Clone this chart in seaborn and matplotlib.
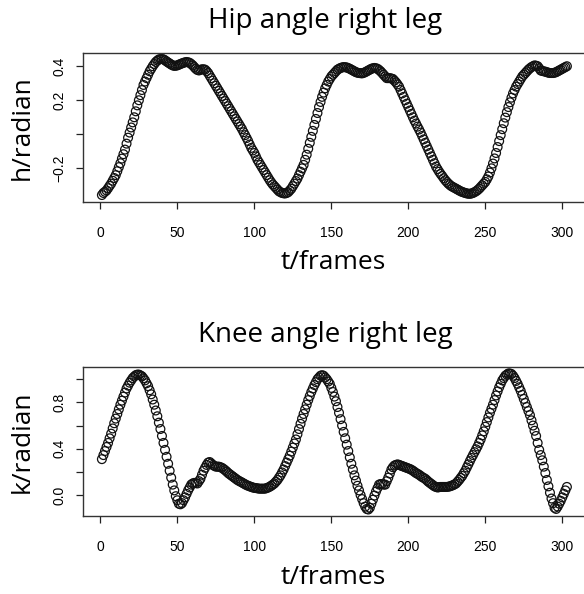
import matplotlib
matplotlib.use("Agg")
import matplotlib.pyplot as plt
import seaborn as sns
import pandas as pd

# Frame index of each sample (1-based, as in the recording)
frames = list(range(1, 304))

# Hip angle of the right leg, radians, one value per frame
hip_angle = [
    -0.357, -0.345, -0.338, -0.330, -0.317, -0.303, -0.290, -0.273, -0.257, -0.240,
    -0.217, -0.193, -0.170, -0.143, -0.117, -0.090, -0.055, -0.020, 0.010, 0.040,
    0.070, 0.100, 0.135, 0.170, 0.200, 0.230, 0.260, 0.290, 0.310, 0.330,
    0.350, 0.370, 0.385, 0.400, 0.413, 0.425, 0.433, 0.440, 0.442, 0.443,
    0.440, 0.435, 0.428, 0.422, 0.416, 0.410, 0.405, 0.402, 0.403, 0.405,
    0.409, 0.413, 0.417, 0.420, 0.423, 0.425, 0.423, 0.420, 0.413, 0.405,
    0.395, 0.385, 0.378, 0.375, 0.379, 0.382, 0.382, 0.380, 0.371, 0.360,
    0.345, 0.330, 0.315, 0.300, 0.285, 0.270, 0.255, 0.240, 0.225, 0.210,
    0.195, 0.180, 0.165, 0.150, 0.135, 0.120, 0.105, 0.090, 0.075, 0.060,
    0.045, 0.030, 0.012, -0.005, -0.022, -0.040, -0.060, -0.080, -0.095, -0.110,
    -0.130, -0.150, -0.165, -0.180, -0.195, -0.210, -0.225, -0.240, -0.255, -0.270,
    -0.283, -0.295, -0.305, -0.315, -0.325, -0.335, -0.340, -0.345, -0.347, -0.348,
    -0.345, -0.340, -0.330, -0.320, -0.305, -0.290, -0.275, -0.260, -0.240, -0.220,
    -0.200, -0.180, -0.150, -0.120, -0.085, -0.050, -0.015, 0.020, 0.055, 0.090,
    0.125, 0.160, 0.190, 0.220, 0.245, 0.270, 0.290, 0.310, 0.325, 0.340,
    0.350, 0.360, 0.370, 0.380, 0.385, 0.390, 0.393, 0.395, 0.394, 0.393,
    0.389, 0.385, 0.380, 0.375, 0.370, 0.365, 0.362, 0.360, 0.359, 0.358,
    0.361, 0.365, 0.370, 0.375, 0.380, 0.385, 0.388, 0.390, 0.388, 0.385,
    0.378, 0.370, 0.360, 0.350, 0.340, 0.330, 0.330, 0.330, 0.328, 0.325,
    0.315, 0.305, 0.293, 0.280, 0.260, 0.240, 0.220, 0.200, 0.180, 0.160,
    0.140, 0.120, 0.100, 0.080, 0.063, 0.045, 0.028, 0.010, -0.010, -0.030,
    -0.050, -0.070, -0.090, -0.110, -0.130, -0.150, -0.170, -0.190, -0.205, -0.220,
    -0.233, -0.245, -0.258, -0.270, -0.280, -0.290, -0.298, -0.305, -0.310, -0.315,
    -0.320, -0.325, -0.330, -0.335, -0.339, -0.342, -0.345, -0.348, -0.349, -0.350,
    -0.348, -0.345, -0.340, -0.335, -0.328, -0.320, -0.310, -0.300, -0.290, -0.280,
    -0.265, -0.248, -0.225, -0.200, -0.172, -0.142, -0.110, -0.075, -0.040, -0.005,
    0.030, 0.065, 0.098, 0.130, 0.160, 0.188, 0.215, 0.240, 0.260, 0.280,
    0.295, 0.310, 0.325, 0.340, 0.350, 0.360, 0.370, 0.380, 0.388, 0.395,
    0.400, 0.405, 0.403, 0.400, 0.388, 0.375, 0.372, 0.370, 0.368, 0.365,
    0.362, 0.360, 0.360, 0.360, 0.362, 0.365, 0.370, 0.375, 0.380, 0.385,
    0.390, 0.395, 0.400,
]

# Knee angle of the right leg, radians, one value per frame
knee_angle = [
    0.310, 0.345, 0.380, 0.415, 0.450, 0.490, 0.530, 0.575, 0.620, 0.660,
    0.700, 0.740, 0.780, 0.815, 0.850, 0.885, 0.920, 0.945, 0.970, 0.990,
    1.010, 1.023, 1.035, 1.040, 1.040, 1.033, 1.025, 1.008, 0.990, 0.965,
    0.940, 0.905, 0.870, 0.825, 0.780, 0.730, 0.680, 0.625, 0.570, 0.510,
    0.450, 0.390, 0.330, 0.270, 0.210, 0.150, 0.090, 0.040, -0.010, -0.045,
    -0.075, -0.080, -0.070, -0.045, -0.020, 0.010, 0.040, 0.065, 0.090, 0.100,
    0.105, 0.103, 0.100, 0.120, 0.140, 0.175, 0.210, 0.235, 0.260, 0.280,
    0.285, 0.273, 0.260, 0.252, 0.245, 0.245, 0.245, 0.240, 0.235, 0.225,
    0.215, 0.203, 0.190, 0.180, 0.170, 0.160, 0.150, 0.140, 0.130, 0.122,
    0.115, 0.108, 0.100, 0.093, 0.085, 0.080, 0.075, 0.070, 0.065, 0.062,
    0.060, 0.058, 0.055, 0.055, 0.055, 0.055, 0.055, 0.060, 0.065, 0.072,
    0.080, 0.090, 0.100, 0.115, 0.130, 0.150, 0.170, 0.195, 0.220, 0.250,
    0.280, 0.310, 0.340, 0.375, 0.410, 0.445, 0.480, 0.525, 0.570, 0.615,
    0.660, 0.700, 0.740, 0.780, 0.820, 0.855, 0.890, 0.920, 0.950, 0.975,
    1.000, 1.015, 1.030, 1.035, 1.030, 1.015, 1.000, 0.980, 0.960, 0.925,
    0.890, 0.850, 0.810, 0.760, 0.710, 0.655, 0.600, 0.545, 0.490, 0.435,
    0.380, 0.325, 0.270, 0.220, 0.170, 0.125, 0.080, 0.040, 0.000, -0.035,
    -0.070, -0.100, -0.120, -0.125, -0.110, -0.075, -0.040, -0.005, 0.030, 0.060,
    0.090, 0.095, 0.095, 0.090, 0.090, 0.120, 0.150, 0.185, 0.220, 0.240,
    0.255, 0.260, 0.265, 0.260, 0.255, 0.250, 0.245, 0.240, 0.235, 0.230,
    0.225, 0.218, 0.210, 0.200, 0.190, 0.183, 0.175, 0.165, 0.155, 0.148,
    0.140, 0.128, 0.115, 0.105, 0.095, 0.085, 0.075, 0.070, 0.065, 0.068,
    0.070, 0.070, 0.070, 0.070, 0.070, 0.072, 0.075, 0.080, 0.085, 0.092,
    0.100, 0.115, 0.130, 0.148, 0.165, 0.188, 0.210, 0.238, 0.265, 0.293,
    0.320, 0.345, 0.370, 0.395, 0.420, 0.450, 0.480, 0.515, 0.550, 0.590,
    0.630, 0.670, 0.710, 0.745, 0.780, 0.820, 0.860, 0.895, 0.930, 0.960,
    0.990, 1.010, 1.030, 1.040, 1.050, 1.050, 1.045, 1.030, 1.010, 0.985,
    0.960, 0.930, 0.900, 0.865, 0.830, 0.795, 0.760, 0.725, 0.690, 0.645,
    0.600, 0.555, 0.510, 0.450, 0.390, 0.345, 0.300, 0.245, 0.190, 0.130,
    0.075, 0.020, -0.030, -0.070, -0.110, -0.120, -0.100, -0.075, -0.050, -0.020,
    0.010, 0.040, 0.070,
]

titles = ["Hip angle right leg", "Knee angle right leg"]
y_labels = ["h/radian", "k/radian"]
x_label = "t/frames"
x_ticks = [0, 50, 100, 150, 200, 250, 300]
hip_yticks = [-0.2, 0.0, 0.2, 0.4]
hip_ytick_labels = ["\u22120.2", "", "0.2", "0.4"]
knee_yticks = [0.0, 0.2, 0.4, 0.6, 0.8, 1.0]
knee_ytick_labels = ["0.0", "", "0.4", "", "0.8", ""]

sns.set_style("ticks")
plt.rcParams["font.family"] = ["Liberation Sans", "DejaVu Sans"]
plt.rcParams["text.color"] = "black"
plt.rcParams["xtick.color"] = "black"
plt.rcParams["ytick.color"] = "black"

W, H = 584, 594
fig = plt.figure(figsize=(W / 100, H / 100), dpi=100)
fig.patch.set_facecolor("white")

label_font = ["Open Sans", "DejaVu Sans"]


def px_axes(left, top, right, bottom):
    return fig.add_axes([left / W, 1 - bottom / H, (right - left) / W, (bottom - top) / H])


panels = [
    dict(top=53.3, bottom=202.0, values=hip_angle, ylim=(-0.398, 0.476),
         yticks=hip_yticks, ylabels=hip_ytick_labels),
    dict(top=367.3, bottom=516.0, values=knee_angle, ylim=(-0.181, 1.103),
         yticks=knee_yticks, ylabels=knee_ytick_labels),
]

left, right = 83.3, 585.5
for i, p in enumerate(panels):
    ax = px_axes(left, p["top"], right, p["bottom"])
    df = pd.DataFrame({"frame": frames, "angle": p["values"]})
    sns.scatterplot(data=df, x="frame", y="angle", ax=ax, marker="o", s=40,
                    facecolor="none", edgecolor="#111111", linewidth=0.9,
                    legend=False)
    ax.set_xlim(-11.08, 315.08)
    ax.set_ylim(*p["ylim"])
    ax.set_xticks(x_ticks)
    ax.set_xticklabels([str(t) for t in x_ticks], fontsize=10)
    ax.set_yticks(p["yticks"])
    ax.set_yticklabels(p["ylabels"], fontsize=10, rotation=90, va="center")
    ax.tick_params(axis="both", which="major", direction="out", length=5.2,
                   width=0.9, color="#222222", labelcolor="black",
                   bottom=True, left=True)
    ax.tick_params(axis="x", pad=12)
    ax.tick_params(axis="y", pad=7)
    ax.set_xlabel("")
    ax.set_ylabel("")
    for sp in ax.spines.values():
        sp.set_visible(True)
        sp.set_color("#333333")
        sp.set_linewidth(1.0)

    cx = (left + 584) / 2
    fig.text(cx / W - 0.014, 1 - (p["top"] - 32) / H, titles[i], ha="center",
             va="center", fontsize=20, family=label_font, color="black")
    fig.text(cx / W, 1 - (p["bottom"] + 61) / H, x_label, ha="center",
             va="center", fontsize=19, family=label_font, color="black")
    fig.text(22 / W, 1 - ((p["top"] + p["bottom"]) / 2) / H, y_labels[i],
             ha="center", va="center", rotation=90, fontsize=19,
             family=label_font, color="black")

fig.savefig("out.png", dpi=100, facecolor="white")
